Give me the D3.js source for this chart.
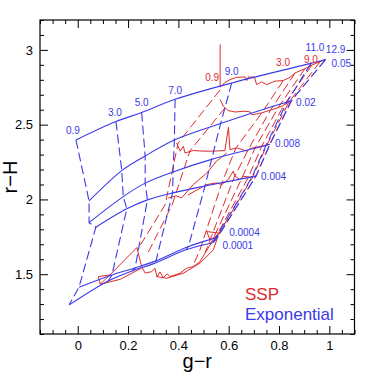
<!DOCTYPE html>
<html lang="en">
<head>
<meta charset="utf-8">
<title>g-r vs r-H</title>
<script src="https://d3js.org/d3.v7.min.js"></script>
<style>
body { margin:0; background:#fff; }
svg { display:block; font-family: "Liberation Sans", Arial, sans-serif; }
.frame { fill:none; stroke:#000; stroke-width:1.2; }
.axis path { display:none; }
.axis line { stroke:#000; stroke-width:1; }
.axis text { font-size:13px; fill:#000; font-family: "Liberation Sans", Arial, sans-serif; }
.exp { stroke:#3a3aea; fill:none; stroke-width:1.1; }
.ssp { stroke:#e02a2a; fill:none; stroke-width:1; }
.dash { stroke-dasharray: 9,4; }
.lab { font-size:10px; }
</style>
</head>
<body>
<div id="chart"></div>
<script>
// exponential model grid: rows = metallicity, columns = age
var ages = ["0.9","3.0","5.0","7.0","9.0","11.0","12.9"];
var metals = ["0.05","0.02","0.008","0.004","0.0004","0.0001"];

var expGR = [
  [-0.007, 0.152, 0.254, 0.387, 0.612, 0.927, 0.985],
  [ 0.045, 0.175, 0.268, 0.384, 0.568, 0.832, 0.848],
  [ 0.045, 0.181, 0.268, 0.379, 0.532, 0.748, 0.764],
  [ 0.072, 0.195, 0.277, 0.377, 0.506, 0.693, 0.709],
  [ 0.005, 0.136, 0.228, 0.311, 0.440, 0.550, 0.558],
  [-0.034, 0.121, 0.216, 0.299, 0.430, 0.532, 0.540]
];
var expRH = [
  [2.398, 2.521, 2.581, 2.670, 2.779, 2.910, 2.935],
  [1.990, 2.193, 2.291, 2.398, 2.508, 2.652, 2.659],
  [1.845, 2.019, 2.109, 2.184, 2.268, 2.361, 2.369],
  [1.814, 1.937, 1.997, 2.044, 2.090, 2.151, 2.157],
  [1.413, 1.495, 1.542, 1.589, 1.685, 1.746, 1.753],
  [1.295, 1.455, 1.522, 1.569, 1.663, 1.709, 1.713]
];

// SSP tracks, [g-r, r-H]
var sspSolid1 = [[0.566,3.037],[0.566,2.751],[0.583,2.779],[0.605,2.801],[0.632,2.817],[0.665,2.819],[0.672,2.795],[0.678,2.819],[0.702,2.819],[0.711,2.768],[0.731,2.786],[0.751,2.768],[0.784,2.791],[0.817,2.795],[0.844,2.817],[0.864,2.846],[0.903,2.875],[0.930,2.898],[0.983,2.935]];
var sspSolid2 = [[0.566,2.668],[0.579,2.623],[0.598,2.594],[0.625,2.585],[0.665,2.590],[0.685,2.585],[0.693,2.565],[0.711,2.572],[0.731,2.579],[0.756,2.592],[0.784,2.607],[0.811,2.623],[0.848,2.659]];
var sspSolid3 = [[0.393,2.378],[0.407,2.323],[0.420,2.356],[0.426,2.311],[0.459,2.327],[0.499,2.323],[0.539,2.323],[0.585,2.327],[0.599,2.483],[0.605,2.333],[0.632,2.345],[0.672,2.323],[0.685,2.340],[0.716,2.351],[0.764,2.369]];
var sspSolid4a = [[0.360,2.010],[0.391,2.024],[0.413,2.010],[0.459,2.099],[0.513,2.177],[0.552,2.256],[0.592,2.311]];
var sspSolid4b = [[0.438,2.030],[0.513,2.099],[0.552,2.111],[0.572,2.099],[0.598,2.133],[0.618,2.189],[0.625,2.155],[0.645,2.133],[0.658,2.155],[0.685,2.149],[0.709,2.157]];
var sspSolid5 = [[0.128,1.495],[0.082,1.484],[0.089,1.433],[0.128,1.495],[0.235,1.678],[0.254,1.551],[0.268,1.507],[0.294,1.517],[0.307,1.540],[0.315,1.482],[0.327,1.515],[0.340,1.477],[0.355,1.502],[0.367,1.484],[0.387,1.495],[0.407,1.507],[0.433,1.540],[0.459,1.551],[0.486,1.584],[0.506,1.640],[0.526,1.696],[0.546,1.729]];
var sspSolid5b = [[0.089,1.433],[0.170,1.466],[0.254,1.542]];
var sspSolid6 = [[0.314,1.484],[0.354,1.473],[0.420,1.507],[0.486,1.574],[0.539,1.663],[0.558,1.756]];
var sspLoop = [[0.513,1.785],[0.526,1.729],[0.566,1.774],[0.513,1.785]];

var sspAge1 = [[0.566,2.733],[0.399,2.378],[0.347,1.963],[0.240,1.670]];
var sspAge2 = [[0.585,2.612],[0.446,2.325],[0.375,1.963],[0.275,1.629]];
var sspAge3 = [[0.816,2.793],[0.732,2.579],[0.629,2.345],[0.573,2.111],[0.486,1.663],[0.458,1.556]];
var sspAge4 = [[0.864,2.846],[0.764,2.592],[0.677,2.331],[0.621,2.144],[0.506,1.642]];
var sspAge5 = [[0.903,2.875],[0.796,2.612],[0.705,2.345],[0.653,2.144],[0.526,1.696]];
var sspAge6 = [[0.931,2.900],[0.820,2.632],[0.732,2.358],[0.677,2.144],[0.542,1.729]];
var sspAge7 = [[0.963,2.920],[0.840,2.652],[0.752,2.365],[0.696,2.151],[0.550,1.742]];
var sspAge8 = [[0.983,2.933],[0.852,2.666],[0.764,2.371],[0.709,2.157],[0.558,1.756]];
var sspAgeLabels = ["0.9","3.0","9.0"];

var xMajor = [0,0.2,0.4,0.6,0.8,1];
var yMajor = [1.5,2,2.5,3];

var W = 374, H = 374;
var m = {l:40, r:19.5, t:20, b:40};

var svg = d3.select("#chart").append("svg").attr("width",W).attr("height",H);

var x = d3.scaleLinear().domain([-0.15,1.1]).range([m.l, W-m.r]);
var y = d3.scaleLinear().domain([1.1,3.2]).range([H-m.b, m.t]);

var fmt = d3.format("~g");
var xMinor = d3.range(-3,23).map(function(i){ return +(i*0.05).toFixed(2); })
  .filter(function(v){ return Math.abs(v/0.2-Math.round(v/0.2))>1e-6; });
var yMinor = d3.range(11,33).map(function(i){ return +(i*0.1).toFixed(1); })
  .filter(function(v){ return Math.abs(v/0.5-Math.round(v/0.5))>1e-6; });

// ticks all pointing inward, on all four sides
function ticks(axisFn, pos, vals, len, labels){
  var a = axisFn.tickValues(vals).tickSize(-len).tickPadding(labels ? 7 : 0)
    .tickFormat(labels ? fmt : function(){ return ""; });
  svg.append("g").attr("class","axis").attr("transform",pos).call(a);
}
var bx = "translate(0,"+(H-m.b)+")", tx = "translate(0,"+m.t+")";
var ly = "translate("+m.l+",0)", ry = "translate("+(W-m.r)+",0)";
ticks(d3.axisBottom(x), bx, xMajor, 8, true);
ticks(d3.axisBottom(x), bx, xMinor, 4, false);
ticks(d3.axisTop(x), tx, xMajor, 8, false);
ticks(d3.axisTop(x), tx, xMinor, 4, false);
ticks(d3.axisLeft(y), ly, yMajor, 8, true);
ticks(d3.axisLeft(y), ly, yMinor, 4, false);
ticks(d3.axisRight(y), ry, yMajor, 8, false);
ticks(d3.axisRight(y), ry, yMinor, 4, false);

svg.append("rect").attr("class","frame")
  .attr("x",m.l).attr("y",m.t).attr("width",W-m.l-m.r).attr("height",H-m.t-m.b);

var plot = svg.append("g");
var line = d3.line().x(function(d){ return x(d[0]); }).y(function(d){ return y(d[1]); });
var smooth = d3.line().curve(d3.curveCatmullRom.alpha(0.5))
  .x(function(d){ return x(d[0]); }).y(function(d){ return y(d[1]); });

// SSP
[sspSolid1,sspSolid2,sspSolid3,sspSolid4a,sspSolid4b,sspSolid5,sspSolid5b,sspSolid6,sspLoop].forEach(function(t){
  plot.append("path").attr("class","ssp").attr("d",line(t));
});
var sspAges = [sspAge1,sspAge2,sspAge3,sspAge4,sspAge5,sspAge6,sspAge7,sspAge8];
sspAges.forEach(function(t){
  plot.append("path").attr("class","ssp dash").attr("d",line(t));
});

// exponential: solid = fixed metallicity, dashed = fixed age
metals.forEach(function(z,i){
  var pts = expGR[i].map(function(g,j){ return [g, expRH[i][j]]; });
  plot.append("path").attr("class","exp").attr("d",smooth(pts));
});
ages.forEach(function(a,j){
  var pts = metals.map(function(z,i){ return [expGR[i][j], expRH[i][j]]; });
  plot.append("path").attr("class","exp dash").attr("d",line(pts));
});

// labels
var blue = "#3a3aea", red = "#e02a2a";
var ageOff = [[-3,-6],[-1,-6],[0,-7],[0,-5],[0,-8],[4,-12],[10,-7]];
ages.forEach(function(a,j){
  svg.append("text").attr("class","lab").attr("fill",blue).attr("text-anchor","middle")
    .attr("x", x(expGR[0][j])+ageOff[j][0]).attr("y", y(expRH[0][j])+ageOff[j][1]).text(a);
});
var zOff = [[6,7],[5,5],[5,3],[5,4],[11,0],[9,7]];
metals.forEach(function(z,i){
  svg.append("text").attr("class","lab").attr("fill",blue)
    .attr("x", x(expGR[i][6])+zOff[i][0]).attr("y", y(expRH[i][6])+zOff[i][1]).text(z);
});
var sspLabTracks = [sspAge1, sspAge3, sspAge6];
var sspOff = [[-8,-9],[0,-15],[-1,-2]];
sspAgeLabels.forEach(function(s,k){
  var p = sspLabTracks[k][0];
  svg.append("text").attr("class","lab").attr("fill",red).attr("text-anchor","middle")
    .attr("x", x(p[0])+sspOff[k][0]).attr("y", y(p[1])+sspOff[k][1]).text(s);
});

// legend
svg.append("text").attr("x",245).attr("y",300).attr("fill",red)
  .style("font-size","17px").text("SSP");
svg.append("text").attr("x",245).attr("y",320).attr("fill",blue)
  .style("font-size","17px").text("Exponential");

// axis titles
svg.append("text").attr("x",(m.l+W-m.r)/2).attr("y",368).attr("text-anchor","middle")
  .style("font-size","20px").text("g\u2212r");
svg.append("text").attr("transform","translate(17,"+((m.t+H-m.b)/2)+") rotate(-90)")
  .attr("text-anchor","middle").style("font-size","20px").text("r\u2212H");
</script>
</body>
</html>
